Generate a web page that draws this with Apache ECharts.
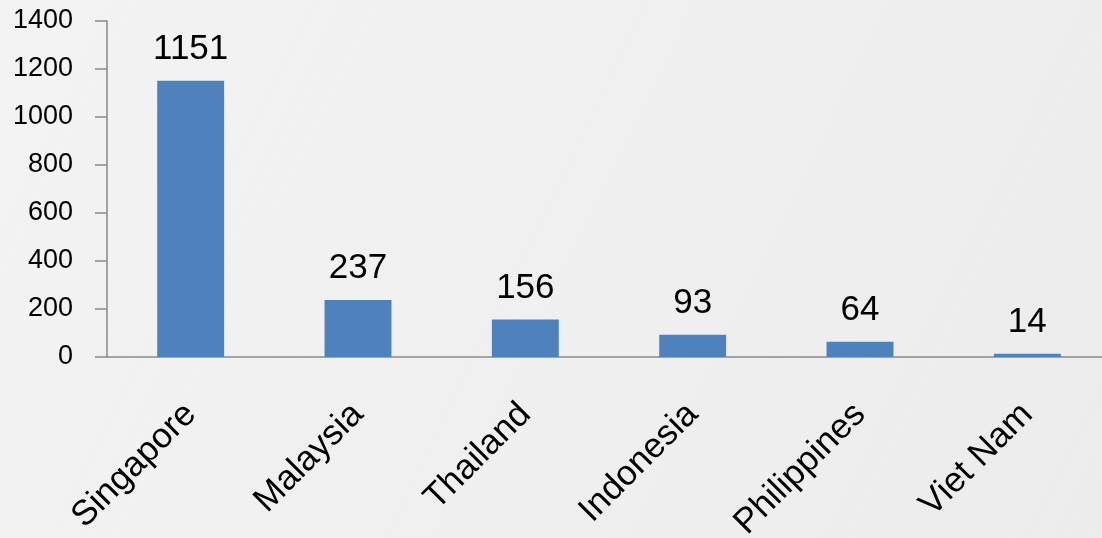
<!DOCTYPE html>
<html>
<head>
<meta charset="utf-8">
<script src="https://cdn.jsdelivr.net/npm/echarts@6/dist/echarts.min.js"></script>
<style>
    html, body { margin: 0; padding: 0; }
    #main { width: 1102px; height: 538px; }
</style>
</head>
<body>
<div id="main"></div>
<script>
const countries = ['Singapore', 'Malaysia', 'Thailand', 'Indonesia', 'Philippines', 'Viet Nam']
const values = [1151, 237, 156, 93, 64, 14]

const axisColor = '#8a8a8a'
const font = 'Arial, "Liberation Sans", sans-serif'

const __main = () => {
    let myChart = echarts.init(document.querySelector('#main'))
    let option = {
        backgroundColor: {
            type: 'linear', x: 0, y: 0, x2: 1, y2: 1,
            colorStops: [
                { offset: 0, color: '#f3f3f3' },
                { offset: 1, color: '#ececec' },
            ],
        },
        grid: {
            left: 107,
            right: -9,
            top: 21,
            bottom: 181,
            containLabel: false,
            outerBoundsMode: 'none',
        },
        xAxis: {
            type: 'category',
            data: countries,
            axisLine: { lineStyle: { color: axisColor, width: 1.5 } },
            axisTick: { length: 14, lineStyle: { color: axisColor, width: 1.5 } },
            axisLabel: {
                rotate: 45,
                margin: 52,
                color: '#000',
                fontSize: 35,
                fontFamily: font,
                interval: 0,
            },
        },
        yAxis: {
            type: 'value',
            min: 0,
            max: 1400,
            interval: 200,
            splitLine: { show: false },
            axisLine: { show: true, lineStyle: { color: axisColor, width: 1.5 } },
            axisTick: { show: true, length: 12, lineStyle: { color: axisColor, width: 1.5 } },
            axisLabel: {
                margin: 34,
                color: '#000',
                fontSize: 27,
                fontFamily: font,
                formatter: v => String(v),
            },
        },
        series: [
            {
                type: 'bar',
                data: values,
                barWidth: '40%',
                itemStyle: { color: '#4f81bd' },
                label: {
                    show: true,
                    position: 'top',
                    distance: 14,
                    color: '#000',
                    fontSize: 35,
                    fontFamily: font,
                },
            },
        ],
    }
    myChart.setOption(option)
}

__main()
</script>
</body>
</html>
